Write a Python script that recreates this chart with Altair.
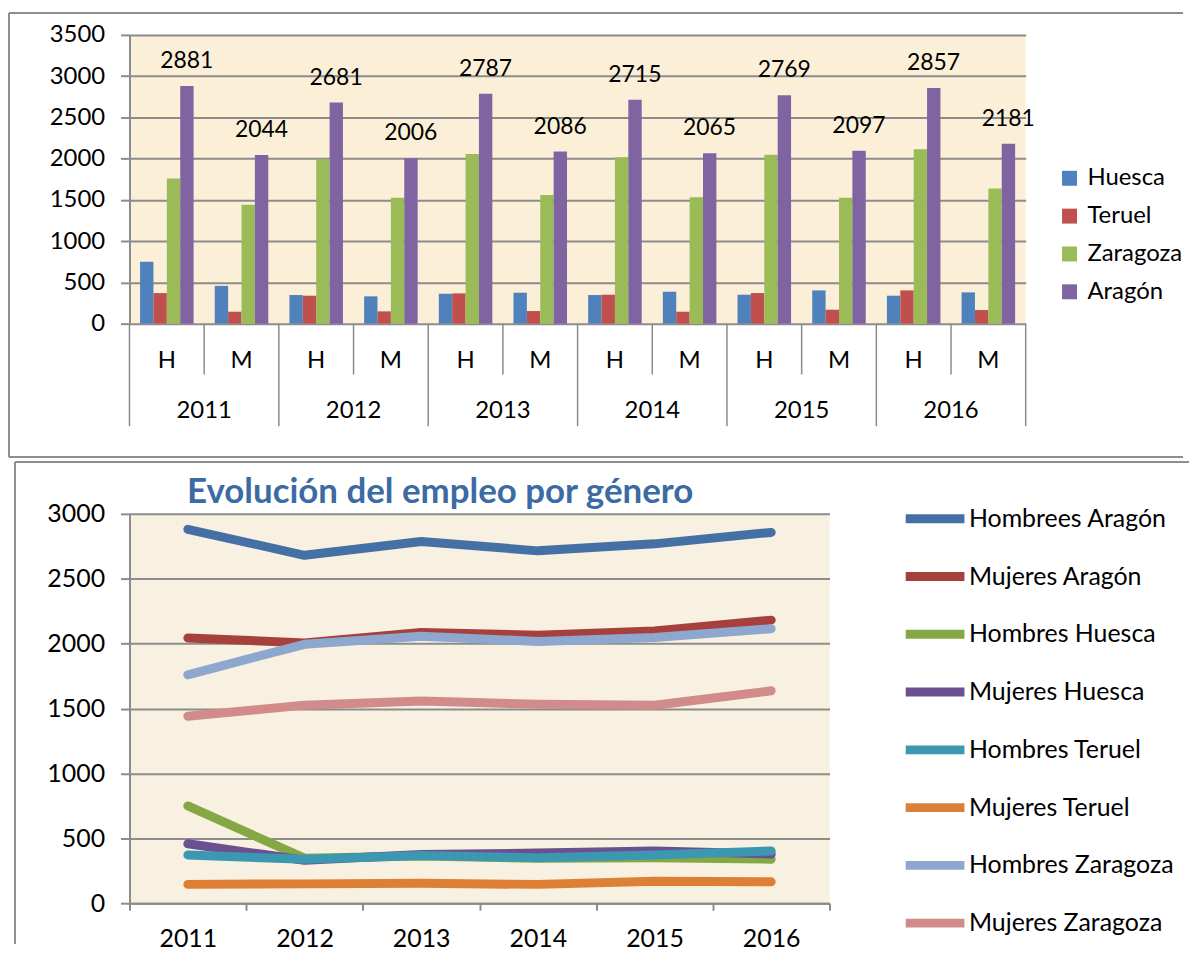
import altair as alt
import pandas as pd

FONT = "Lato"
GRAY = "#8C8C8C"
BORDER = "#8E8E8E"

# ---------------- data ----------------
years = ["2011", "2012", "2013", "2014", "2015", "2016"]
genders = ["H", "M"]
provinces = ["Huesca", "Teruel", "Zaragoza", "Aragón"]
prov_colors = ["#4F81BD", "#C0504D", "#9BBB59", "#8064A2"]

# order: 2011 H, 2011 M, 2012 H, 2012 M, ...
huesca = [750, 458, 347, 331, 363, 375, 347, 387, 351, 403, 339, 379]
teruel = [371, 145, 339, 149, 367, 153, 351, 145, 371, 169, 403, 165]
zaragoza = [1760, 1441, 1995, 1526, 2057, 1558, 2017, 1533, 2047, 1525, 2115, 1637]
aragon = [2881, 2044, 2681, 2006, 2787, 2086, 2715, 2065, 2769, 2097, 2857, 2181]

series_names = ["Hombrees Aragón", "Mujeres Aragón", "Hombres Huesca", "Mujeres Huesca",
                "Hombres Teruel", "Mujeres Teruel", "Hombres Zaragoza", "Mujeres Zaragoza"]
series_colors = ["#4470A6", "#A6403D", "#86A844", "#6A5091",
                 "#3C97B0", "#DD7F35", "#8EA7CF", "#D18B8A"]
title_text = "Evolución del empleo por género"

# ---------------- tables ----------------
keys = [f"{y} {g}" for y in years for g in genders]
rows = []
for i, k in enumerate(keys):
    for p, arr in zip(provinces, [huesca, teruel, zaragoza, aragon]):
        rows.append({"key": k, "year": k[:4], "gender": k[-1], "prov": p, "value": arr[i]})
bars_df = pd.DataFrame(rows)
keys_df = pd.DataFrame({"key": keys, "year": [k[:4] for k in keys], "gender": [k[-1] for k in keys]})

series_arrays = [aragon[0::2], aragon[1::2], huesca[0::2], huesca[1::2],
                 teruel[0::2], teruel[1::2], zaragoza[0::2], zaragoza[1::2]]
lrows = []
for name, arr in zip(series_names, series_arrays):
    for y, v in zip(years, arr):
        lrows.append({"series": name, "year": y, "value": v})
lines_df = pd.DataFrame(lrows)
one = pd.DataFrame({"k": [0]})

# ---------------- top chart ----------------
W1, H1 = 900, 290
FS_TOP = 24


def xk(band=0.5):
    return alt.X("key:N", sort=keys,
                 scale=alt.Scale(domain=keys, paddingInner=0, paddingOuter=0),
                 axis=None, bandPosition=band)


yaxis_top = alt.Axis(values=list(range(0, 3501, 500)), format="d", title=None, grid=True,
                     gridColor=GRAY, gridWidth=2, domainColor=GRAY, domainWidth=2, tickSize=9,
                     tickColor=GRAY, tickWidth=2, labelFontSize=FS_TOP, labelPadding=16,
                     labelFont=FONT, labelColor="black")


def brule(x, x2, y, y2):
    return alt.Chart(one).mark_rule(color=BORDER, strokeWidth=2).encode(
        x=alt.value(x), x2=alt.value(x2), y=alt.value(y), y2=alt.value(y2))


top_borders = [brule(-121, 1058, -22, -22), brule(-121, -121, -22, 424), brule(-121, 1058, 424, 424)]

bars = alt.Chart(bars_df).mark_bar().encode(
    x=alt.X("key:N", sort=keys, scale=alt.Scale(domain=keys, paddingInner=0, paddingOuter=0), axis=None),
    xOffset=alt.XOffset("prov:N", sort=provinces,
                        scale=alt.Scale(domain=provinces, paddingInner=0, paddingOuter=0.79)),
    y=alt.Y("value:Q", scale=alt.Scale(domain=[0, 3500], nice=False), axis=yaxis_top),
    color=alt.Color("prov:N", sort=provinces,
                    scale=alt.Scale(domain=provinces, range=prov_colors),
                    legend=alt.Legend(title=None, orient="none", legendX=932, legendY=132,
                                      symbolType="square", symbolSize=225, symbolStrokeWidth=0,
                                      labelFontSize=FS_TOP, labelFont=FONT, labelColor="black",
                                      labelOffset=6, rowPadding=14, padding=0, labelLimit=300)),
)

value_labels = alt.Chart(bars_df).transform_filter(alt.datum.prov == "Aragón").mark_text(
    fontSize=23, font=FONT, baseline="alphabetic", dx=20, dy=-18, color="black").encode(
    x=xk(0.5), y=alt.Y("value:Q"), text=alt.Text("value:Q"))

sep_long = alt.Chart(keys_df).transform_filter(alt.datum.gender == "H").mark_rule(
    color=GRAY, strokeWidth=1.5).encode(x=xk(0), y=alt.value(H1), y2=alt.value(H1 + 103))
sep_short = alt.Chart(keys_df).transform_filter(alt.datum.gender == "M").mark_rule(
    color=GRAY, strokeWidth=1.5).encode(x=xk(0), y=alt.value(H1), y2=alt.value(H1 + 51))
sep_end = alt.Chart(keys_df).transform_filter(alt.datum.key == keys[-1]).mark_rule(
    color=GRAY, strokeWidth=1.5).encode(x=xk(1), y=alt.value(H1), y2=alt.value(H1 + 103))

hm_labels = alt.Chart(keys_df).mark_text(fontSize=FS_TOP, font=FONT, baseline="alphabetic",
                                         color="black").encode(
    x=xk(0.5), y=alt.value(H1 + 45), text="gender:N")
yr_labels = alt.Chart(keys_df).transform_filter(alt.datum.gender == "M").mark_text(
    fontSize=FS_TOP, font=FONT, baseline="alphabetic", color="black").encode(
    x=xk(0), y=alt.value(H1 + 95), text="year:N")

top = alt.layer(*top_borders, bars, value_labels, sep_long, sep_short, sep_end,
                hm_labels, yr_labels).properties(
    width=W1, height=H1, view=alt.ViewBackground(fill="#FCEFD8", stroke=None))

# ---------------- bottom chart ----------------
W2, H2 = 703, 391
FS_BOT = 25

bot_borders = [brule(-115, 1064, -52, -52), brule(-115, -115, -52, 432)]

title_mark = alt.Chart(one).mark_text(fontSize=35, font=FONT, fontWeight="bold", color="#3C6AA2",
                                      baseline="alphabetic", align="center").encode(
    x=alt.value(312), y=alt.value(-11), text=alt.value(title_text))

lines = alt.Chart(lines_df).mark_line(strokeWidth=9, strokeCap="round", strokeJoin="round").encode(
    x=alt.X("year:N", sort=years, bandPosition=0.5,
            scale=alt.Scale(type="band", domain=years, paddingInner=0, paddingOuter=0),
            axis=alt.Axis(title=None, tickBand="extent", ticks=True, tickSize=7, tickColor=GRAY,
                          tickWidth=2, domainColor=GRAY, domainWidth=2, labelFontSize=FS_BOT,
                          labelFont=FONT, labelColor="black", labelBaseline="alphabetic",
                          labelPadding=36, labelAngle=0, grid=False)),
    y=alt.Y("value:Q", scale=alt.Scale(domain=[0, 3000], nice=False),
            axis=alt.Axis(values=list(range(0, 3001, 500)), format="d", title=None, grid=True,
                          gridColor=GRAY, gridWidth=2, domainColor=GRAY, domainWidth=2,
                          tickSize=9, tickColor=GRAY, tickWidth=2, labelFontSize=FS_BOT,
                          labelPadding=16, labelFont=FONT, labelColor="black")),
    color=alt.Color("series:N", sort=series_names,
                    scale=alt.Scale(domain=series_names, range=series_colors),
                    legend=alt.Legend(title=None, orient="none", legendX=775, legendY=-29,
                                      symbolType="stroke", symbolSize=3481, symbolStrokeWidth=9,
                                      labelFontSize=FS_BOT, labelFont=FONT, labelColor="black",
                                      labelOffset=0, rowPadding=6, padding=0, labelLimit=300)),
)

bottom = alt.layer(*bot_borders, title_mark, lines).properties(
    width=W2, height=H2, view=alt.ViewBackground(fill="#F8F0E1", stroke=None))

chart = alt.vconcat(top, bottom, spacing=3).resolve_scale(
    color="independent", x="independent", y="independent"
).resolve_legend(color="independent").properties(
    padding={"left": 0, "top": 2, "right": 0, "bottom": 0}
).configure(font=FONT).configure_view(stroke=None)

chart.save("out.html", embed_options={"renderer": "svg", "actions": False})
